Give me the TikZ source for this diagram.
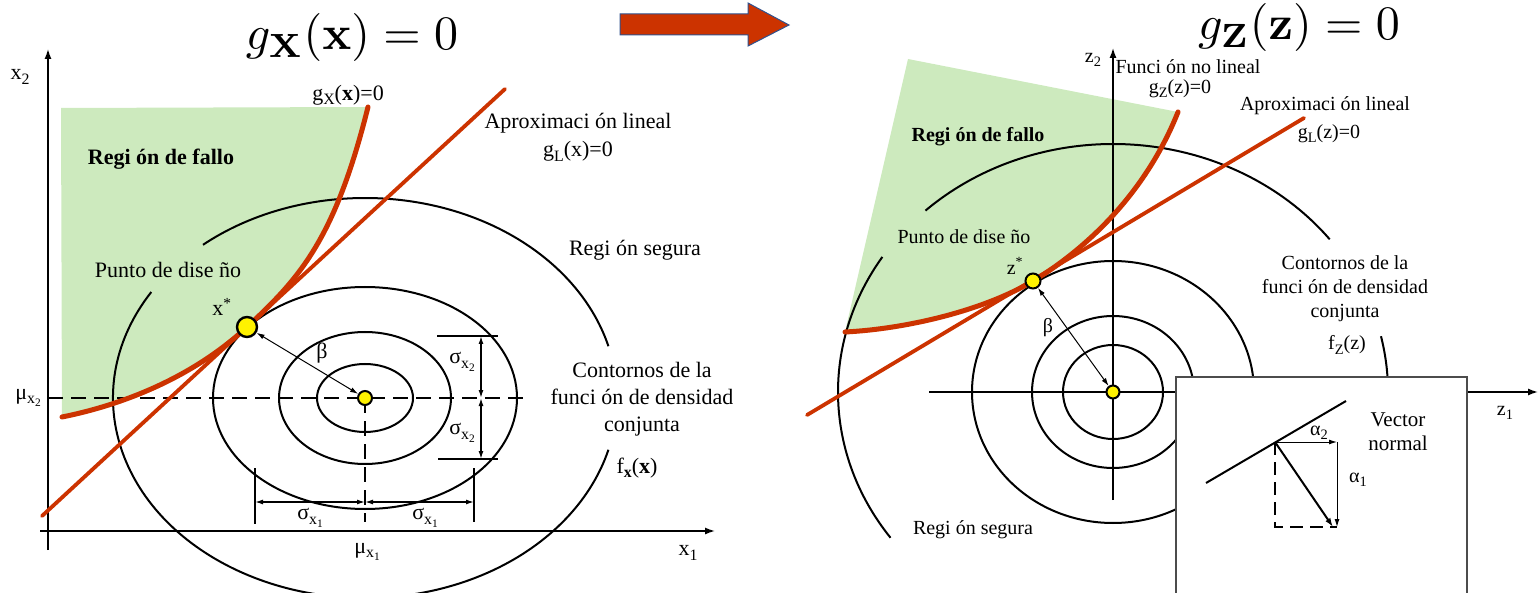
\documentclass[tikz,border=0pt]{standalone}
\usepackage[no-math]{fontspec}
\setmainfont{Liberation Serif}
\usepackage{amsmath,amssymb}
\usepackage{tikz}
\usetikzlibrary{arrows.meta,positioning,calc}

\definecolor{redc}{RGB}{204,51,0}
\definecolor{greenc}{RGB}{205,234,190}
\definecolor{bluec}{RGB}{47,82,143}
\newcommand{\sbs}[1]{\raisebox{-0.45ex}{\scalebox{0.72}{#1}}}

\begin{document}
\begin{tikzpicture}[
  x=1pt, y=-1pt,
  lbl/.style={inner sep=0pt, font=\fontsize{22}{27}\selectfont, align=center},
  lblz/.style={inner sep=0pt, font=\fontsize{20}{24}\selectfont, align=center},
  eqtitle/.style={inner sep=0pt},
  contour/.style={line width=2pt},
  axis/.style={line width=1.4pt, -{Latex[length=10pt,width=7pt]}},
  limit/.style={draw=redc, line width=5pt, line cap=round},
  linear/.style={draw=redc, line width=3.8pt, line cap=round},
  failure/.style={fill=greenc},
  dpoint/.style={circle, draw, line width=2.4pt, fill=yellow, inner sep=0pt, minimum size=20pt},
  mpoint/.style={circle, draw, line width=2pt, fill=yellow, inner sep=0pt, minimum size=14pt},
  guide/.style={line width=2pt, dash pattern=on 15pt off 8pt},
  dimtick/.style={line width=1.4pt},
  dimarrow/.style={line width=1.4pt, {Latex[length=8pt,width=5pt]}-{Latex[length=8pt,width=5pt]}},
  betaarrow/.style={line width=1pt, {Latex[length=8pt,width=5pt]}-{Latex[length=8pt,width=5pt]}},
  thinarrow/.style={line width=1pt, -{Latex[length=8pt,width=5pt]}},
  normalarrow/.style={line width=2pt, -{Latex[length=9pt,width=6pt]}}
]
\useasboundingbox (0,0) rectangle (1539,593);
\clip (0,0) rectangle (1539,593);

% espacio X
\fill[failure] (61,108) -- (368,107) .. controls (335,239) and (300,278) .. (247,327) .. controls (192,378) and (122,405) .. (62,417) -- cycle;
\coordinate (cx) at (365,398);
\draw[contour] (cx) ellipse [x radius=48, y radius=34];
\draw[contour] (cx) ellipse [x radius=86, y radius=66];
\draw[contour] (cx) ellipse [x radius=152, y radius=111];
\draw[contour] (cx) ++(-15:252 and 200) arc[start angle=-15, end angle=-130, x radius=252, y radius=200];
\draw[contour] (cx) ++(-148:252 and 200) arc[start angle=-148, end angle=-345, x radius=252, y radius=200];
\draw[axis] (48,550) -- (48,49);
\draw[axis] (40,531) -- (715,531);
\draw[guide] (48,398) -- (525,398);
\draw[guide] (cx) -- (365,522);
\draw[dimtick] (437,336) -- (498,336);
\draw[dimtick] (438,459) -- (498,459);
\draw[dimarrow] (481,336) -- (481,398);
\draw[dimarrow] (481,398) -- (481,459);
\draw[dimtick] (255,468) -- (255,524);
\draw[dimtick] (474,468) -- (474,522);
\draw[dimarrow] (255,502) -- (365,502);
\draw[dimarrow] (365,502) -- (474,502);
\draw[linear] (42,516) -- (505,89);
\draw[limit] (62,417) .. controls (122,405) and (192,378) .. (247,327) .. controls (300,278) and (335,239) .. (368,107);
\node[dpoint] (dpx) at (247,327) {};
\node[mpoint] (mx) at (cx) {};
\draw[betaarrow] (dpx) -- (mx);

\node[eqtitle] (tx) at (352,38) {\scalebox{4.8}{$g_{\mathbf{X}}(\mathbf{x}) = 0$}};
\node[lbl] (gx) at (348,95) {g\sbs{X}(\textbf{x})=0};
\node[lbl] (fallox) at (161,159) {\textbf{Regi ón de fallo}};
\node[lbl] (puntox) at (168,270) {Punto de dise ño};
\node[lbl] (xstar) at (222,307) {x\textsuperscript{*}};
\node[lbl] (aprox) at (578,123) {Aproximaci ón lineal};
\node[lbl, below=8pt of aprox] (glx) {g\sbs{L}(x)=0};
\node[lbl] (segx) at (635,250) {Regi ón segura};
\node[lbl] (contx) at (642,399) {Contornos de la\\funci ón de densidad\\conjunta};
\node[lbl] (fx) at (637,468) {f\sbs{\textbf{x}}(\textbf{x})};
\node[lbl] (x2l) at (20,77) {x\sbs{2}};
\node[lbl] (x1l) at (688,553) {x\sbs{1}};
\node[lbl] (mux2) at (28,398) {μ\sbs{x\sbs{2}}};
\node[lbl] (mux1) at (367,552) {μ\sbs{x\sbs{1}}};
\node[lbl] (sy1) at (462,362) {σ\sbs{x\sbs{2}}};
\node[lbl] (sy2) at (462,433) {σ\sbs{x\sbs{2}}};
\node[lbl] (sx1) at (310,518) {σ\sbs{x\sbs{1}}};
\node[lbl] (sx2) at (425,518) {σ\sbs{x\sbs{1}}};
\node[lbl] (betax) at (322,353) {β};

\draw[draw=bluec, line width=1pt, fill=redc] (620,14) -- (748,14) -- (748,3) -- (789,25) -- (748,46) -- (748,35) -- (620,35) -- cycle;

% espacio Z
\fill[failure] (908,59) -- (1178,112) .. controls (1143,200) and (1078,254) .. (1033,281) .. controls (983,311) and (905,329) .. (845,332) -- cycle;
\coordinate (cz) at (1113,392);
\draw[contour] (cz) ellipse [x radius=50, y radius=47];
\draw[contour] (cz) ellipse [x radius=81, y radius=76];
\draw[contour] (cz) ellipse [x radius=141, y radius=131];
\draw[contour] (cz) ++(-38:275 and 248) arc[start angle=-38, end angle=-133, x radius=275, y radius=248];
\draw[contour] (cz) ++(-147:275 and 248) arc[start angle=-147, end angle=-216, x radius=275, y radius=248];
\draw[contour] (cz) ++(10:275 and 248) arc[start angle=10, end angle=-13, x radius=275, y radius=248];
\draw[axis] (1113,500) -- (1113,48);
\draw[axis] (929,392) -- (1538,392);
\draw[linear] (807,415) -- (1304,118);
\draw[limit] (845,332) .. controls (905,329) and (983,311) .. (1033,281) .. controls (1078,254) and (1143,200) .. (1178,112);
\node[dpoint, minimum size=15pt, line width=2pt] (dpz) at (1033,281) {};
\node[mpoint, minimum size=13pt] (mz) at (cz) {};
\draw[betaarrow] (dpz) -- (mz);

\draw[draw=black!70, line width=1.2pt, fill=white] (1176,377) rectangle (1467,610);
\coordinate (tn) at (1275,442);
\draw[contour] (1206,483) -- (1346,401);
\draw[thinarrow] (tn) -- (1337,442);
\draw[thinarrow] (1337,442) -- (1337,527);
\draw[normalarrow] (tn) -- (1333,527);
\draw[guide, dash pattern=on 13pt off 7pt] (tn) -- (1275,527) -- (1337,527);

\node[eqtitle] (tz) at (1299,28) {\scalebox{4.8}{$g_{\mathbf{Z}}(\mathbf{z}) = 0$}};
\node[lblz] (funz) at (1188,67) {Funci ón no lineal};
\node[lblz] (gz) at (1180,89) {g\sbs{Z}(z)=0};
\node[lblz] (aproz) at (1325,106) {Aproximaci ón lineal};
\node[lblz] (glz) at (1329,134) {g\sbs{L}(z)=0};
\node[lblz] (falloz) at (978,137) {\textbf{Regi ón de fallo}};
\node[lblz] (puntoz) at (964,237) {Punto de dise ño};
\node[lblz] (zstar) at (1015,266) {z\textsuperscript{*}};
\node[lblz] (contz) at (1345,289) {Contornos de la\\funci ón de densidad\\conjunta};
\node[lblz] (fz) at (1347,345) {f\sbs{Z}(z)};
\node[lblz] (segz) at (973,530) {Regi ón segura};
\node[lblz] (z2l) at (1093,60) {z\sbs{2}};
\node[lblz] (z1l) at (1505,413) {z\sbs{1}};
\node[lblz] (betaz) at (1048,328) {β};
\node[lblz, font=\fontsize{21}{24}\selectfont] (vecn) at (1398,432) {Vector\\normal};
\node[lblz] (al2) at (1319,433) {α\sbs{2}};
\node[lblz] (al1) at (1358,480) {α\sbs{1}};
\end{tikzpicture}
\end{document}
